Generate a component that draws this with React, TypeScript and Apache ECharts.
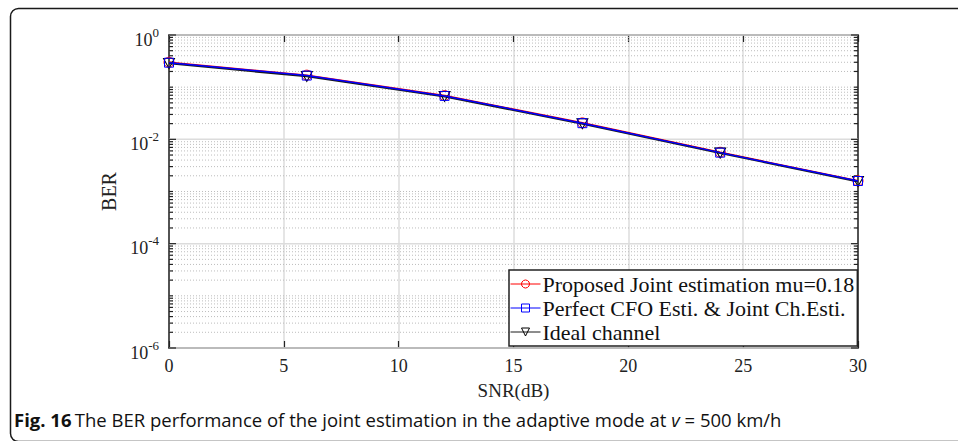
import React, { useEffect, useRef } from 'react';
import * as echarts from 'echarts';

const snr = [0, 6, 12, 18, 24, 30];
const proposed = [0.300, 0.170, 0.069, 0.0207, 0.00565, 0.00160];
const perfect = [0.295, 0.167, 0.068, 0.0204, 0.00556, 0.00159];
const ideal = [0.286, 0.161, 0.0665, 0.0199, 0.00545, 0.00156];
const seriesNames = [
  'Proposed Joint estimation mu=0.18',
  'Perfect CFO Esti. & Joint Ch.Esti.',
  'Ideal channel',
];
const decades = [-6, -5, -4, -3, -2, -1];
const mantissas = [2, 3, 4, 5, 6, 7, 8, 9];
const xTicks = [0, 5, 10, 15, 20, 25, 30];

const SERIF = 'Liberation Serif';
const INK = '#222222';

function buildGridData() {
  const out: number[][] = [];
  for (const d of decades) {
    const base = Math.pow(10, d);
    out.push([0, base, d % 2 === 0 ? 1 : 0]);
    for (const m of mantissas) out.push([0, m * base, 0]);
  }
  out.push([0, 1, 1]);
  return out;
}

export default function App() {
  const ref = useRef<HTMLDivElement>(null);
  useEffect(() => {
    if (!ref.current) return;
    const chart = echarts.init(ref.current, null, { renderer: 'svg' });
    const pts = (vals: number[]) => snr.map((x, i) => [x, vals[i]]);
    const xMin = xTicks[0];
    const xMax = xTicks[xTicks.length - 1];
    const option: any = {
      animation: false,
      backgroundColor: '#ffffff',
      grid: { left: 169, top: 35, right: 100, bottom: 93, containLabel: false },
      legend: {
        data: seriesNames,
        orient: 'vertical',
        left: 509,
        top: 270,
        itemWidth: 30,
        itemHeight: 10,
        itemGap: 2,
        padding: [3, 3, 3, 1],
        backgroundColor: '#ffffff',
        borderColor: INK,
        borderWidth: 1.5,
        borderRadius: 0,
        lineStyle: { width: 1 },
        itemStyle: { borderWidth: 1 },
        textStyle: { fontFamily: SERIF, fontSize: 22, lineHeight: 22, color: '#111', padding: [0, 0, 0, -3] },
      },
      xAxis: [
        {
          type: 'value',
          min: xMin,
          max: xMax,
          interval: 5,
          position: 'bottom',
          name: 'SNR(dB)',
          nameLocation: 'middle',
          nameGap: 33,
          nameTextStyle: { fontFamily: SERIF, fontSize: 19, color: INK },
          axisLine: { show: true, onZero: false, lineStyle: { color: INK, width: 1.5 } },
          axisTick: { show: true, inside: true, length: 7, lineStyle: { color: INK, width: 1.2 } },
          axisLabel: { fontFamily: SERIF, fontSize: 18, color: INK, margin: 9 },
          splitLine: { show: true, lineStyle: { color: '#dcdcdc', width: 1.5 } },
        },
        {
          type: 'value',
          min: xMin,
          max: xMax,
          interval: 5,
          position: 'top',
          axisLine: { show: true, onZero: false, lineStyle: { color: INK, width: 1.5 } },
          axisTick: { show: true, inside: true, length: 7, lineStyle: { color: INK, width: 1.2 } },
          axisLabel: { show: false },
          splitLine: { show: false },
        },
      ],
      yAxis: [
        {
          type: 'log',
          logBase: 10,
          min: 1e-6,
          max: 1,
          splitNumber: 6,
          position: 'left',
          name: 'BER',
          nameLocation: 'middle',
          nameGap: 35,
          nameRotate: 90,
          nameTextStyle: { fontFamily: SERIF, fontSize: 20, color: INK },
          axisLine: { show: true, onZero: false, lineStyle: { color: INK, width: 1.5 } },
          axisTick: { show: false },
          splitLine: { show: false },
          axisLabel: {
            margin: 10,
            formatter: (v: number) => {
              const e = Math.round(Math.log10(v));
              if (e % 2 !== 0) return '';
              return `{b|10}{s|${e}}`;
            },
            rich: {
              b: { fontFamily: SERIF, fontSize: 18, color: INK, lineHeight: 18, padding: [9, 0, 0, 0] },
              s: { fontFamily: SERIF, fontSize: 13, color: INK, lineHeight: 13, padding: [4, 0, 10, 0] },
            },
          },
        },
        {
          type: 'log',
          logBase: 10,
          min: 1e-6,
          max: 1,
          splitNumber: 6,
          position: 'right',
          axisLine: { show: true, onZero: false, lineStyle: { color: INK, width: 1.5 } },
          axisTick: { show: false },
          axisLabel: { show: false },
          splitLine: { show: false },
        },
      ],
      series: [
        {
          type: 'custom',
          name: 'grid',
          silent: true,
          z: 1,
          clip: false,
          data: buildGridData(),
          encode: { x: 0, y: 1 },
          renderItem: (params: any, api: any) => {
            const v = api.value(1);
            const major = api.value(2) === 1;
            const a = api.coord([xMin, v]);
            const b = api.coord([xMax, v]);
            const tl = major ? 7 : 4;
            return {
              type: 'group',
              children: [
                {
                  type: 'line',
                  shape: { x1: a[0], y1: a[1], x2: b[0], y2: b[1] },
                  style: major
                    ? { stroke: '#dcdcdc', lineWidth: 1.5 }
                    : { stroke: '#bdbdbd', lineWidth: 1, lineDash: [1, 2] },
                },
                {
                  type: 'line',
                  shape: { x1: a[0], y1: a[1], x2: a[0] + tl, y2: a[1] },
                  style: { stroke: INK, lineWidth: 1.2 },
                },
                {
                  type: 'line',
                  shape: { x1: b[0] - tl, y1: b[1], x2: b[0], y2: b[1] },
                  style: { stroke: INK, lineWidth: 1.2 },
                },
              ],
            };
          },
        },
        {
          name: seriesNames[0],
          type: 'line',
          data: pts(proposed),
          z: 3,
          clip: false,
          symbol: 'circle',
          symbolSize: 10,
          itemStyle: { color: 'rgba(255,255,255,0)', borderColor: '#ff0000', borderWidth: 1 },
          lineStyle: { color: '#ff0000', width: 1.5 },
        },
        {
          name: seriesNames[2],
          type: 'line',
          data: pts(ideal),
          z: 4,
          clip: false,
          symbol: 'path://M0,0 L10,0 L5,9 Z',
          symbolSize: [11, 10],
          itemStyle: { color: 'rgba(255,255,255,0)', borderColor: '#000000', borderWidth: 1 },
          lineStyle: { color: '#1a1a1a', width: 2 },
        },
        {
          name: seriesNames[1],
          type: 'line',
          data: pts(perfect),
          z: 5,
          clip: false,
          symbol: 'rect',
          symbolSize: 9,
          itemStyle: { color: 'rgba(255,255,255,0)', borderColor: '#0000ff', borderWidth: 1 },
          lineStyle: { color: '#0000ff', width: 1.5 },
        },
      ],
      graphic: [
        {
          type: 'rect',
          shape: { x: 10.5, y: 8.5, width: 1000, height: 433, r: 8 },
          style: { fill: 'none', stroke: '#1a1a1a', lineWidth: 1.5 },
          silent: true,
          z: 0,
        },
        {
          type: 'text',
          x: 14,
          y: 419,
          style: {
            text:
              '{b|Fig. 16} {n|The BER performance of the joint estimation in the adaptive mode at }{i|v}{n| = 500 km/h}',
            verticalAlign: 'middle',
            rich: {
              b: { fontFamily: 'Open Sans', fontWeight: 'bold', fontSize: 18.5, fill: '#111' },
              n: { fontFamily: 'Open Sans', fontSize: 18.5, fill: '#111' },
              i: { fontFamily: 'Open Sans', fontStyle: 'italic', fontSize: 18.5, fill: '#111' },
            },
          },
        },
      ],
    };
    chart.setOption(option);
    return () => chart.dispose();
  }, []);
  return (
    <div
      ref={ref}
      style={{ position: 'fixed', left: 0, top: 0, width: 958, height: 441, background: '#fff' }}
    />
  );
}
